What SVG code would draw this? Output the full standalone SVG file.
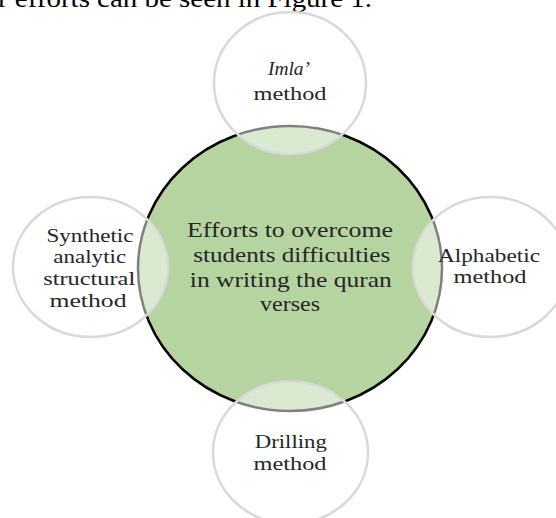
<svg xmlns="http://www.w3.org/2000/svg" width="556" height="518" viewBox="0 0 556 518">
  <style>
    .txt { font-family: "Liberation Serif", "Times New Roman", serif; fill: #262626; text-anchor: middle; }
    .big { font-size: 22px; }
    .small { font-size: 19.5px; }
    .center { fill: #b5d4a0; stroke: #000; stroke-width: 2.5; }
    .sat { fill: #ffffff; fill-opacity: 0.5; stroke: #d9d9d9; stroke-width: 2.5; }
  </style>
  <rect width="556" height="518" fill="#ffffff"/>
  <text x="-2" y="7" class="txt" style="text-anchor:start;font-size:26px;fill:#000" textLength="374" lengthAdjust="spacingAndGlyphs">r efforts can be seen in Figure 1.</text>

  <g id="center">
    <ellipse cx="290" cy="268.5" rx="152" ry="142.5" class="center"/>
  </g>

  <g id="imla">
    <ellipse cx="290" cy="83" rx="76" ry="71" class="sat"/>
    <text x="289" y="75" class="txt small" style="font-style:italic" textLength="42" lengthAdjust="spacingAndGlyphs">Imla’</text>
    <text x="290" y="100" class="txt small" textLength="73" lengthAdjust="spacingAndGlyphs">method</text>
  </g>

  <g id="synthetic">
    <ellipse cx="90.5" cy="267" rx="77.5" ry="70" class="sat"/>
    <text x="90" y="241.5" class="txt small" textLength="87" lengthAdjust="spacingAndGlyphs">Synthetic</text>
    <text x="89.7" y="263" class="txt small" textLength="73" lengthAdjust="spacingAndGlyphs">analytic</text>
    <text x="89.2" y="285" class="txt small" textLength="92" lengthAdjust="spacingAndGlyphs">structural</text>
    <text x="88" y="306.5" class="txt small" textLength="77" lengthAdjust="spacingAndGlyphs">method</text>
  </g>

  <g id="alphabetic">
    <ellipse cx="490.5" cy="267" rx="77.5" ry="70" class="sat"/>
    <text x="489" y="261.5" class="txt small" textLength="102" lengthAdjust="spacingAndGlyphs">Alphabetic</text>
    <text x="490" y="283.3" class="txt small" textLength="73" lengthAdjust="spacingAndGlyphs">method</text>
  </g>

  <g id="drilling">
    <ellipse cx="290.5" cy="452.5" rx="77.5" ry="71" class="sat"/>
    <text x="290.8" y="448.3" class="txt small" textLength="72" lengthAdjust="spacingAndGlyphs">Drilling</text>
    <text x="290" y="470" class="txt small" textLength="73" lengthAdjust="spacingAndGlyphs">method</text>
  </g>

  <g id="center-label">
    <text x="290" y="237" class="txt big" textLength="206" lengthAdjust="spacingAndGlyphs">Efforts to overcome</text>
    <text x="291.7" y="261.5" class="txt big" textLength="197" lengthAdjust="spacingAndGlyphs">students difficulties</text>
    <text x="290.8" y="286.5" class="txt big" textLength="202" lengthAdjust="spacingAndGlyphs">in writing the quran</text>
    <text x="290" y="310.7" class="txt big" textLength="60" lengthAdjust="spacingAndGlyphs">verses</text>
  </g>
</svg>
